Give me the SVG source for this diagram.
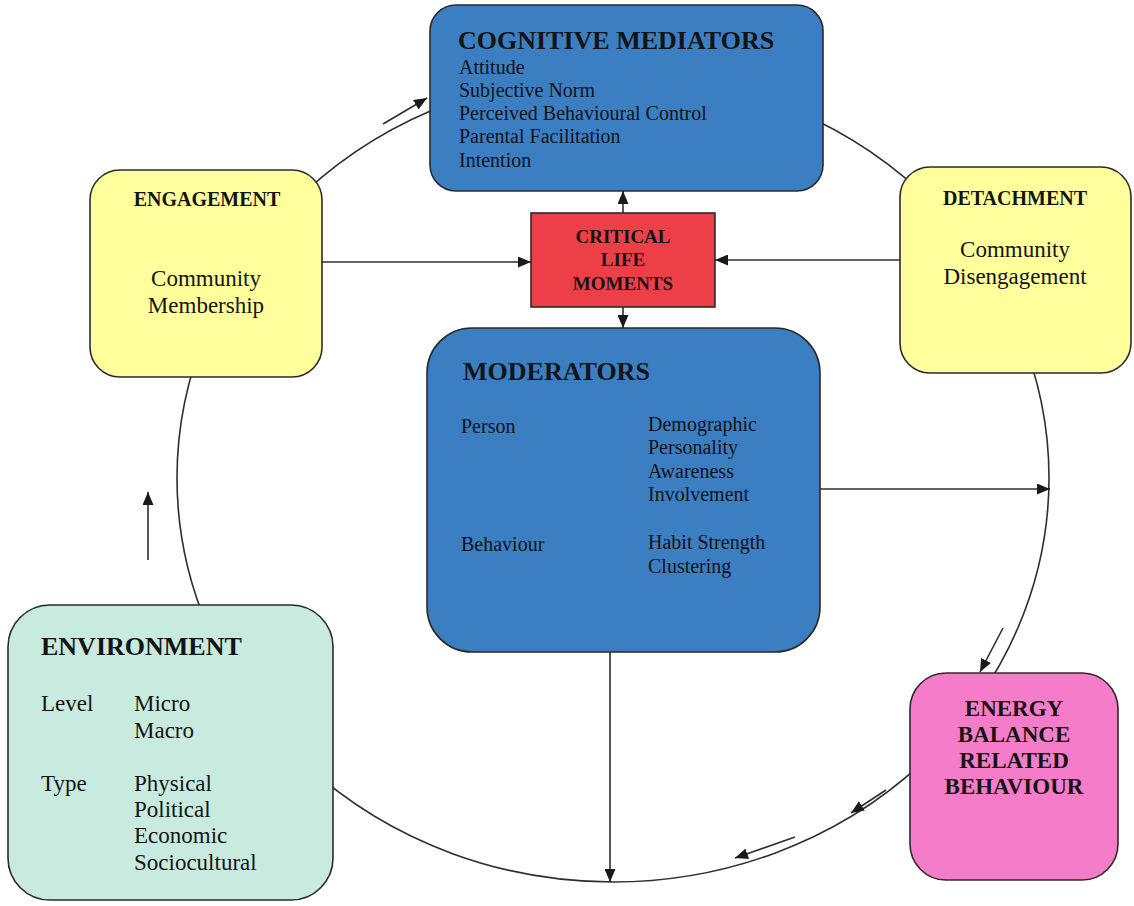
<svg xmlns="http://www.w3.org/2000/svg" width="1134" height="906" viewBox="0 0 1134 906">
  <style>
    .box { stroke: #2a2a2a; stroke-width: 1.6; }
    .blue { fill: #3b7ec2; }
    .yellow { fill: #ffff9c; }
    .mint { fill: #c8eadf; }
    .pink { fill: #f57cc8; }
    .red { fill: #ec3f48; }
    .t { font-family: "Liberation Serif", "Times New Roman", serif; fill: #141414; }
    .b { font-weight: bold; }
    .mid { text-anchor: middle; }
    .conn { fill: none; stroke: #2e2e2e; stroke-width: 1.6; }
  </style>
  <defs>
    <marker id="arrow" viewBox="0 0 13 11" refX="13" refY="5.5" markerWidth="13" markerHeight="11" markerUnits="userSpaceOnUse" orient="auto">
      <path d="M0,0 L13,5.5 L0,11 Z" fill="#1a1a1a"/>
    </marker>
  </defs>
  <rect width="1134" height="906" fill="#ffffff"/>

  <!-- connectors: the cycle ellipse, the flow arrows and the links round the central box -->
  <g id="connectors">
    <ellipse class="conn" cx="613" cy="478" rx="436" ry="404"/>
    <line class="conn" x1="383" y1="124" x2="427" y2="98" marker-end="url(#arrow)"/>
    <line class="conn" x1="1003" y1="628" x2="980" y2="672" marker-end="url(#arrow)"/>
    <line class="conn" x1="886" y1="790" x2="851" y2="813" marker-end="url(#arrow)"/>
    <line class="conn" x1="795" y1="837" x2="735" y2="858" marker-end="url(#arrow)"/>
    <line class="conn" x1="148" y1="560" x2="148" y2="492" marker-end="url(#arrow)"/>
    <line class="conn" x1="623" y1="213" x2="623" y2="191" marker-end="url(#arrow)"/>
    <line class="conn" x1="623" y1="307" x2="623" y2="328" marker-end="url(#arrow)"/>
    <line class="conn" x1="322" y1="262" x2="531" y2="262" marker-end="url(#arrow)"/>
    <line class="conn" x1="900" y1="260" x2="715" y2="260" marker-end="url(#arrow)"/>
    <line class="conn" x1="820" y1="489" x2="1050" y2="489" marker-end="url(#arrow)"/>
    <line class="conn" x1="610" y1="652" x2="610" y2="882" marker-end="url(#arrow)"/>
  </g>

  <g id="cognitive-mediators">
    <rect class="box blue" x="430" y="5" width="393" height="186" rx="26"/>
    <text class="t b" x="458" y="49" font-size="26">COGNITIVE MEDIATORS</text>
    <text class="t" x="459" y="74" font-size="20">Attitude</text>
    <text class="t" x="459" y="97" font-size="20">Subjective Norm</text>
    <text class="t" x="459" y="120" font-size="20">Perceived Behavioural Control</text>
    <text class="t" x="459" y="143" font-size="20">Parental Facilitation</text>
    <text class="t" x="459" y="167" font-size="20">Intention</text>
  </g>

  <g id="engagement">
    <rect class="box yellow" x="90" y="170" width="232" height="207" rx="30"/>
    <text class="t b mid" x="207" y="206" font-size="20">ENGAGEMENT</text>
    <text class="t mid" x="206" y="286" font-size="23">Community</text>
    <text class="t mid" x="206" y="313" font-size="23">Membership</text>
  </g>

  <g id="detachment">
    <rect class="box yellow" x="900" y="167" width="231" height="206" rx="30"/>
    <text class="t b mid" x="1015" y="205" font-size="20">DETACHMENT</text>
    <text class="t mid" x="1015" y="257" font-size="23">Community</text>
    <text class="t mid" x="1015" y="284" font-size="23">Disengagement</text>
  </g>

  <g id="critical-life-moments">
    <rect class="box red" x="531" y="213" width="184" height="94"/>
    <text class="t b mid" x="623" y="243" font-size="19">CRITICAL</text>
    <text class="t b mid" x="623" y="266" font-size="19">LIFE</text>
    <text class="t b mid" x="623" y="290" font-size="19">MOMENTS</text>
  </g>

  <g id="moderators">
    <rect class="box blue" x="427" y="328" width="393" height="324" rx="45"/>
    <text class="t b" x="463" y="380" font-size="26">MODERATORS</text>
    <text class="t" x="461" y="433" font-size="20">Person</text>
    <text class="t" x="461" y="551" font-size="20">Behaviour</text>
    <text class="t" x="648" y="431" font-size="20">Demographic</text>
    <text class="t" x="648" y="454" font-size="20">Personality</text>
    <text class="t" x="648" y="478" font-size="20">Awareness</text>
    <text class="t" x="648" y="501" font-size="20">Involvement</text>
    <text class="t" x="648" y="549" font-size="20">Habit Strength</text>
    <text class="t" x="648" y="573" font-size="20">Clustering</text>
  </g>

  <g id="environment">
    <rect class="box mint" x="8" y="605" width="325" height="295" rx="42"/>
    <text class="t b" x="41" y="655" font-size="26">ENVIRONMENT</text>
    <text class="t" x="41" y="711" font-size="23">Level</text>
    <text class="t" x="134" y="711" font-size="23">Micro</text>
    <text class="t" x="134" y="738" font-size="23">Macro</text>
    <text class="t" x="41" y="791" font-size="23">Type</text>
    <text class="t" x="134" y="791" font-size="23">Physical</text>
    <text class="t" x="134" y="817" font-size="23">Political</text>
    <text class="t" x="134" y="843" font-size="23">Economic</text>
    <text class="t" x="134" y="870" font-size="23">Sociocultural</text>
  </g>

  <g id="energy-balance-related-behaviour">
    <rect class="box pink" x="910" y="673" width="208" height="207" rx="36"/>
    <text class="t b mid" x="1014" y="716" font-size="23">ENERGY</text>
    <text class="t b mid" x="1014" y="742" font-size="23">BALANCE</text>
    <text class="t b mid" x="1014" y="768" font-size="23">RELATED</text>
    <text class="t b mid" x="1014" y="794" font-size="23">BEHAVIOUR</text>
  </g>
</svg>
